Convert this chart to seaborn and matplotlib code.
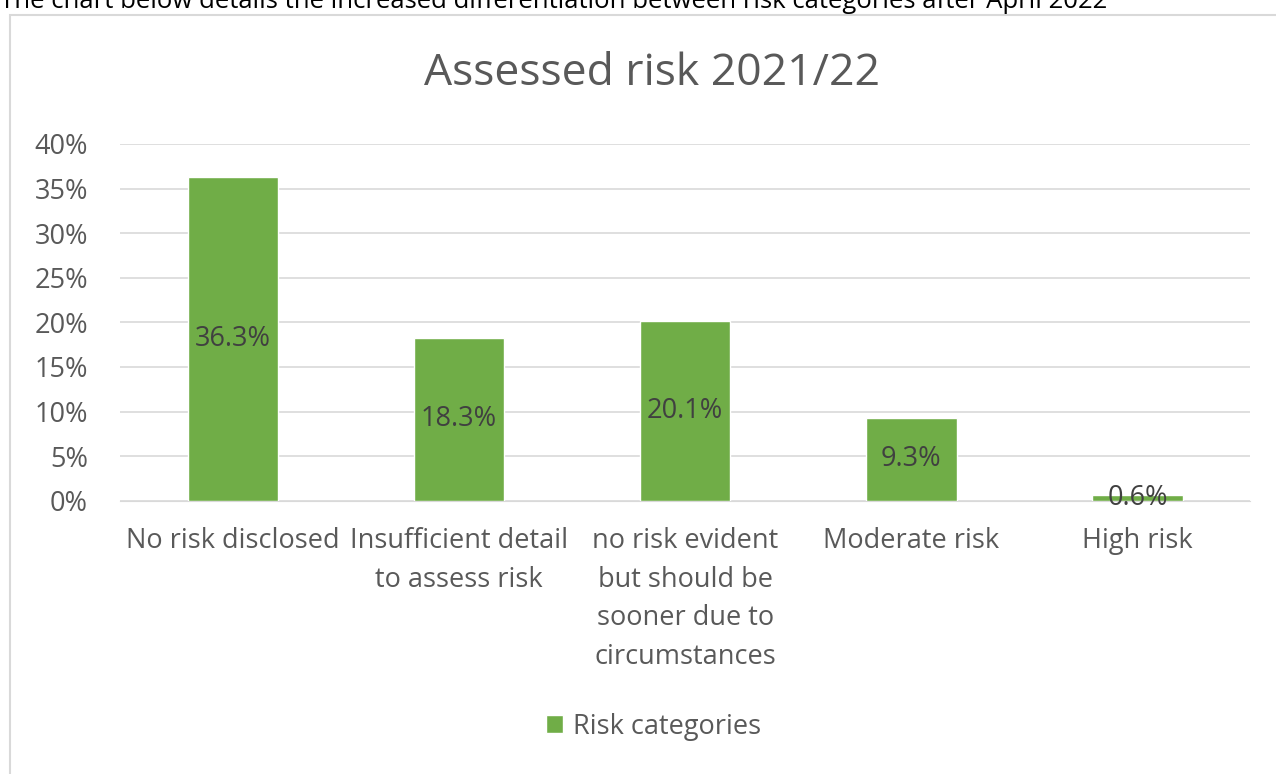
import pandas as pd
import seaborn as sns
import matplotlib.pyplot as plt
from matplotlib.patches import Rectangle, Patch
from matplotlib.ticker import PercentFormatter

# chart values
categories = ["No risk disclosed", "Insufficient detail\nto assess risk",
              "no risk evident\nbut should be\nsooner due to\ncircumstances",
              "Moderate risk", "High risk"]
shares = [36.3, 18.3, 20.1, 9.3, 0.6]
series_name = "Risk categories"

data = pd.DataFrame({"category": categories, "share": shares})

sns.set_style("white")
plt.rcParams['font.family'] = ['Open Sans', 'DejaVu Sans']

green = "#70AD47"
grey_text = "#595959"

fig = plt.figure(figsize=(12.76, 7.74), dpi=100)
ax = fig.add_axes([0.094, 0.353, 0.886, 0.461])

sns.barplot(x="category", y="share", data=data, color=green, width=0.4,
            saturation=1, ax=ax, zorder=3)

# labels in the middle of each bar
ax.bar_label(ax.containers[0], labels=[f"{v:.1f}%" for v in shares],
             label_type="center", color="#404040", fontsize=19.5, zorder=4)

ax.set_ylim(0, 40)
ax.set_xlim(-0.5, 4.5)
ax.set_yticks(range(0, 41, 5))
ax.yaxis.set_major_formatter(PercentFormatter(decimals=0))
ax.grid(axis="y", color="#D9D9D9", linewidth=1.2, zorder=0)
for s in ["top", "right", "left"]:
    ax.spines[s].set_visible(False)
ax.spines["bottom"].set_color("#D9D9D9")
ax.tick_params(axis="both", length=0, labelsize=19.5, colors=grey_text)
ax.tick_params(axis="y", pad=23)
ax.tick_params(axis="x", pad=19)
for lab in ax.get_xticklabels():
    lab.set_linespacing(1.5)
    lab.set_verticalalignment("top")
ax.set_xlabel("")
ax.set_ylabel("")

fig.text(0.511, 0.905, "Assessed risk 2021/22", ha="center", va="center",
         fontsize=32, color=grey_text)

# legend below the plot
fig.legend(handles=[Patch(facecolor=green, label=series_name)],
           loc="center", bbox_to_anchor=(0.512, 0.061), frameon=False,
           fontsize=19.5, labelcolor=grey_text, handlelength=0.65,
           handleheight=0.65, handletextpad=0.35)

# chart frame and the caption above it
fig.patches.append(Rectangle((10 / 1276, -0.05), 1.2, 1.031,
                             transform=fig.transFigure, fill=False,
                             edgecolor="#D9D9D9", linewidth=1.5))
fig.text(0.0, 0.998, "The chart below details the increased differentiation between risk categories after April 2022",
         ha="left", va="center", fontsize=18.5, color="#000000")

fig.savefig("out.png", dpi=100)
